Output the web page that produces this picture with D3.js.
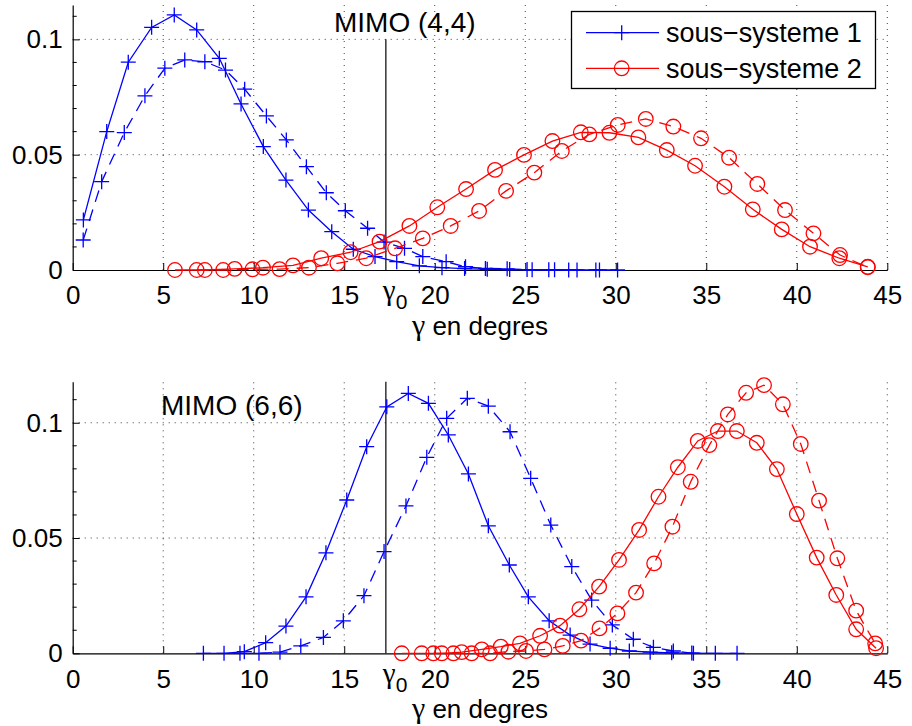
<!DOCTYPE html>
<html><head><meta charset="utf-8">
<script src="https://cdn.jsdelivr.net/npm/d3@7"></script>
<style>
body{margin:0;background:#fff}
text{font-family:"Liberation Sans",Arial,Helvetica,sans-serif;fill:#000}
</style>
</head><body>
<svg id="c" width="912" height="726"></svg>
<script>
// ---------------- DATA ----------------
const G0 = 17.3;                       // gamma_0 (degrees)
const xTickValues = [0, 5, 10, 15, G0, 20, 25, 30, 35, 40, 45];
const xGridValues = [5, 10, 15, 20, 25, 30, 35, 40, 45];
const yTickValues = [0, 0.05, 0.1];
const yTickLabels = ["0", "0.05", "0.1"];
const yMinorStep = 0.01;
const seriesNames = ["sous\u2212systeme 1", "sous\u2212systeme 2"];
const panelTitles = ["MIMO (4,4)", "MIMO (6,6)"];

// MIMO (4,4)
const top_s1_solid_x = [0.59,1.88,3.07,4.36,5.61,6.85,8.10,9.30,10.53,11.78,13.02,14.31,15.50,16.70,17.90,19.15,20.40,21.65,22.90,24.14,25.38,26.62,27.86,29.10,30.10];
const top_s1_solid_y = [0.0217,0.0600,0.0901,0.1052,0.1106,0.1041,0.0918,0.0720,0.0535,0.0390,0.0260,0.0166,0.0090,0.0058,0.0036,0.0018,0.0010,0.0006,0.0003,0.0002,0.0001,0.0001,0,0,0];
const top_s1_dash_x = [0.58,1.60,2.85,3.99,5.09,6.19,7.30,8.44,9.50,10.70,11.80,12.91,14.01,15.06,16.29,17.20,18.33,19.34,20.63,21.70,22.80,24.00,25.10,26.30,27.40,28.90];
const top_s1_dash_y = [0.0130,0.0383,0.0596,0.0755,0.0875,0.0911,0.0903,0.0867,0.0784,0.0668,0.0564,0.0448,0.0335,0.0257,0.0181,0.0121,0.0094,0.0058,0.0036,0.0014,0.0007,0.0005,0.0002,0.0001,0,0];
const top_s2_solid_x = [5.65,7.30,8.95,10.51,12.17,13.73,15.35,16.95,18.60,20.14,21.73,23.33,24.93,26.50,28.07,29.65,31.25,32.82,34.38,36.00,37.57,39.17,40.73,42.35,43.92];
const top_s2_solid_y = [0,0,0.0005,0.0010,0.0020,0.0051,0.0077,0.0123,0.0191,0.0272,0.0351,0.0434,0.0499,0.0559,0.0597,0.0595,0.0575,0.0520,0.0452,0.0361,0.0263,0.0176,0.0101,0.0051,0.0014];
const top_s2_dash_x = [6.85,8.31,9.93,11.43,13.05,14.62,16.21,17.81,19.34,20.88,22.45,23.94,25.50,27.02,28.54,30.11,31.66,33.18,34.71,36.26,37.82,39.35,40.92,42.39,43.92];
const top_s2_dash_y = [0,0,0.0003,0.0004,0.0010,0.0029,0.0051,0.0094,0.0137,0.0191,0.0256,0.0343,0.0422,0.0516,0.0588,0.0629,0.0655,0.0622,0.0571,0.0487,0.0373,0.0260,0.0159,0.0065,0.0012];

// MIMO (6,6)
const bot_s1_solid_x = [7.22,8.36,9.48,10.66,11.78,12.89,13.99,15.14,16.24,17.35,18.54,19.65,20.75,21.86,22.96,24.12,25.17,26.32,27.48,28.58,29.69,30.75,31.90,33.09,34.20,35.50,36.70];
const bot_s1_solid_y = [0,0,0.0007,0.0046,0.0118,0.0245,0.0436,0.0665,0.0896,0.1069,0.1127,0.1084,0.0947,0.0778,0.0553,0.0383,0.0245,0.0141,0.0079,0.0040,0.0022,0.0010,0.0005,0.0002,0.0001,0,0];
const bot_s1_dash_x = [9.24,10.29,11.45,12.60,13.85,14.95,16.09,17.20,18.41,19.56,20.66,21.80,22.96,24.16,25.30,26.41,27.57,28.67,29.81,30.97,32.08,33.18,34.29];
const bot_s1_dash_y = [0,0,0.0005,0.0032,0.0069,0.0141,0.0250,0.0441,0.0639,0.0850,0.1019,0.1106,0.1072,0.0961,0.0759,0.0556,0.0376,0.0231,0.0123,0.0061,0.0026,0.0010,0];
const bot_s2_solid_x = [18.18,19.28,20.39,21.49,22.60,23.65,24.71,25.82,26.92,27.99,29.08,30.18,31.29,32.36,33.43,34.53,35.64,36.69,37.79,38.90,40.00,41.10,42.18,43.28,44.38];
const bot_s2_solid_y = [0,0,0,0.0005,0.0017,0.0029,0.0043,0.0076,0.0120,0.0191,0.0289,0.0405,0.0535,0.0679,0.0807,0.0921,0.0964,0.0964,0.0913,0.0799,0.0604,0.0415,0.0253,0.0104,0.0022];
const bot_s2_dash_x = [19.92,21.03,22.04,23.06,24.07,25.04,26.06,27.07,28.08,29.10,30.09,31.12,32.12,33.13,34.14,35.17,36.19,37.20,38.19,39.23,40.22,41.23,42.24,43.28,44.33];
const bot_s2_dash_y = [0,0,0,0,0.0007,0.0010,0.0017,0.0032,0.0055,0.0108,0.0173,0.0263,0.0390,0.0549,0.0744,0.0903,0.1036,0.1130,0.1163,0.1080,0.0908,0.0662,0.0412,0.0185,0.0043];

// ---------------- LAYOUT / STYLE ----------------
const BLUE = "#0000ff", RED = "#ff0000";
const DASH = "12,8";
const panels = [
  {ymax:0.1149, y0:270, yTop:5, g0Top:0.1, title:panelTitles[0], titleX:334, titleY:32, legend:true,
   series:[
     {x:top_s1_solid_x,y:top_s1_solid_y,color:BLUE,marker:"plus",dash:null},
     {x:top_s1_dash_x,y:top_s1_dash_y,color:BLUE,marker:"plus",dash:DASH},
     {x:top_s2_solid_x,y:top_s2_solid_y,color:RED,marker:"circle",dash:null},
     {x:top_s2_dash_x,y:top_s2_dash_y,color:RED,marker:"circle",dash:DASH}]},
  {ymax:0.1178, y0:653.3, yTop:381.7, g0Top:0.1178, title:panelTitles[1], titleX:161, titleY:415, legend:false,
   series:[
     {x:bot_s1_solid_x,y:bot_s1_solid_y,color:BLUE,marker:"plus",dash:null},
     {x:bot_s1_dash_x,y:bot_s1_dash_y,color:BLUE,marker:"plus",dash:DASH},
     {x:bot_s2_solid_x,y:bot_s2_solid_y,color:RED,marker:"circle",dash:null},
     {x:bot_s2_dash_x,y:bot_s2_dash_y,color:RED,marker:"circle",dash:DASH}]}
];

const svg = d3.select("#c");
svg.append("rect").attr("width",912).attr("height",726).attr("fill","#fff");

const LW = 1.3, PLUS = 7.5, CR = 7.3;
function drawMarker(g, kind, cx, cy, color){
  if(kind==="plus"){
    g.append("path").attr("d",`M${cx-PLUS},${cy}H${cx+PLUS}M${cx},${cy-PLUS}V${cy+PLUS}`)
      .attr("stroke",color).attr("stroke-width",LW).attr("fill","none");
  } else {
    g.append("circle").attr("cx",cx).attr("cy",cy).attr("r",CR)
      .attr("stroke",color).attr("stroke-width",LW).attr("fill","none");
  }
}

panels.forEach(p => {
  const x = d3.scaleLinear().domain([0,45]).range([72.7,887.3]);
  const y = d3.scaleLinear().domain([0,p.ymax]).range([p.y0,p.yTop]);
  const g = svg.append("g");

  // grid
  g.selectAll(".vg").data(xGridValues).join("line")
    .attr("x1",d=>x(d)).attr("x2",d=>x(d)).attr("y1",y(0)).attr("y2",y(p.ymax))
    .attr("stroke","#000").attr("stroke-width",1).attr("stroke-dasharray","1,5").attr("opacity",0.75);
  g.selectAll(".hg").data(yTickValues.filter(v=>v>0)).join("line")
    .attr("x1",x(0)).attr("x2",x(45)).attr("y1",d=>y(d)).attr("y2",d=>y(d))
    .attr("stroke","#000").attr("stroke-width",1).attr("stroke-dasharray","1,5").attr("opacity",0.75);

  // minor y ticks
  const minor = d3.range(yMinorStep, p.ymax, yMinorStep).filter(v => !yTickValues.some(t=>Math.abs(t-v)<1e-9));
  g.selectAll(".mt").data(minor).join("line")
    .attr("x1",x(0)).attr("x2",x(0)+4).attr("y1",d=>y(d)).attr("y2",d=>y(d))
    .attr("stroke","#000").attr("stroke-width",1);

  // axes
  const xAxis = d3.axisBottom(x).tickValues(xTickValues)
    .tickFormat(d => d===G0 ? "" : String(d)).tickSizeInner(-7).tickSizeOuter(0).tickPadding(16);
  const gx = g.append("g").attr("transform",`translate(0,${y(0)})`).call(xAxis);
  const yAxis = d3.axisLeft(y).tickValues(yTickValues)
    .tickFormat((d,i)=>yTickLabels[i]).tickSizeInner(-7).tickSizeOuter(0).tickPadding(10);
  const gy = g.append("g").attr("transform",`translate(${x(0)},0)`).call(yAxis);
  [gx,gy].forEach(a=>{
    a.attr("font-family",null).attr("font-size",null);
    a.select(".domain").attr("stroke","#000").attr("stroke-width",1.2);
    a.selectAll(".tick line").attr("stroke","#000").attr("stroke-width",1);
    a.selectAll(".tick text").style("font-size","26px").attr("fill","#000");
  });
  gx.selectAll(".tick").filter(d=>d===G0).select("line").remove();

  // gamma_0 tick label
  const gl = g.append("text").attr("x",x(G0)-3).attr("y",y(0)+30).style("font-size","29px");
  gl.append("tspan").text("\u03b3").style("font-family","'Liberation Serif','Times New Roman',serif");
  gl.append("tspan").text("0").attr("dy",9).style("font-size","21px");

  // x label
  const xl = g.append("text").attr("x",(x(0)+x(45))/2).attr("y",y(0)+65)
    .attr("text-anchor","middle").style("font-size","26px");
  xl.append("tspan").text("\u03b3").style("font-family","'Liberation Serif','Times New Roman',serif").style("font-size","30px");
  xl.append("tspan").text(" en degres");

  // gamma_0 vertical line
  g.append("line").attr("x1",x(G0)).attr("x2",x(G0)).attr("y1",y(0)).attr("y2",y(p.g0Top))
    .attr("stroke","#000").attr("stroke-width",1.2);

  // series
  p.series.forEach(s => {
    const pts = s.x.map((v,i)=>[v,s.y[i]]);
    g.append("path").datum(pts)
      .attr("d", d3.line().x(d=>x(d[0])).y(d=>y(d[1])))
      .attr("fill","none").attr("stroke",s.color).attr("stroke-width",LW)
      .attr("stroke-dasharray",s.dash);
    const mg = g.append("g");
    pts.forEach(d => drawMarker(mg, s.marker, x(d[0]), y(d[1]), s.color));
  });

  // title
  g.append("text").attr("x",p.titleX).attr("y",p.titleY).style("font-size","28px").text(p.title);

  // legend
  if(p.legend){
    const lg = g.append("g");
    lg.append("rect").attr("x",571.5).attr("y",11.5).attr("width",304).attr("height",77)
      .attr("fill","#fff").attr("stroke","#000").attr("stroke-width",1.3);
    const rows = [{name:seriesNames[0],color:BLUE,marker:"plus",cy:32.7},
                  {name:seriesNames[1],color:RED,marker:"circle",cy:68.3}];
    rows.forEach(r=>{
      lg.append("line").attr("x1",586).attr("x2",659).attr("y1",r.cy).attr("y2",r.cy)
        .attr("stroke",r.color).attr("stroke-width",LW);
      drawMarker(lg, r.marker, 621.7, r.cy, r.color);
      lg.append("text").attr("x",666).attr("y",r.cy+9.5).style("font-size","27px").text(r.name);
    });
  }
});
</script>
</body></html>
